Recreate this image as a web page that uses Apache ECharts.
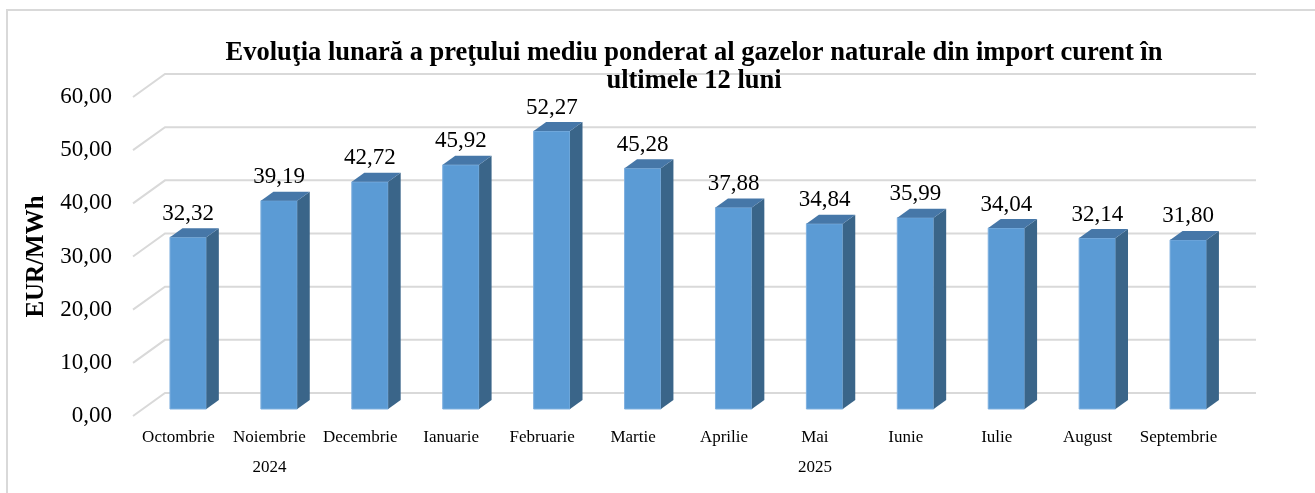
<!DOCTYPE html>
<html>
<head>
<meta charset="utf-8">
<script src="https://cdn.jsdelivr.net/npm/echarts@6/dist/echarts.min.js"></script>
<style>
  html, body { margin: 0; padding: 0; background: #fff; }
  #chart { width: 1315px; height: 493px; }
</style>
</head>
<body>
<div id="chart"></div>
<script>
// date
const months = ['Octombrie', 'Noiembrie', 'Decembrie', 'Ianuarie', 'Februarie', 'Martie',
  'Aprilie', 'Mai', 'Iunie', 'Iulie', 'August', 'Septembrie'];
const prices = [32.32, 39.19, 42.72, 45.92, 52.27, 45.28, 37.88, 34.84, 35.99, 34.04, 32.14, 31.80];
const yearGroups = [['2024', 3], ['2025', 9]]; // an, numar de luni
const yTicks = [0, 10, 20, 30, 40, 50, 60];

// eticheta anului sub luna din mijlocul grupului
const yearLabels = [];
yearGroups.forEach(([year, count]) => {
  const mid = Math.floor((count - 1) / 2);
  for (let i = 0; i < count; i++) yearLabels.push(i === mid ? year : '');
});

const fmt = v => v.toFixed(2).replace('.', ',');
const serif = '"Liberation Serif", "Times New Roman", serif';

// adancimea "3D" in pixeli
const WALL_DX = 32, WALL_DY = -23;
const BAR_OX = 9.7, BAR_OY = -7;
const BAR_DX = 12.5, BAR_DY = -9;

const myChart = echarts.init(document.getElementById('chart'));

myChart.setOption({
  animation: false,
  graphic: [{
    type: 'rect',
    shape: { x: 7, y: 10, width: 1400, height: 600 },
    style: { fill: 'none', stroke: '#d9d9d9', lineWidth: 2 },
    z: -10
  }],
  title: {
    text: 'Evoluţia lunară a preţului mediu ponderat al gazelor naturale din import curent în\nultimele 12 luni',
    left: 689,
    top: 34,
    textAlign: 'center',
    textStyle: {
      fontFamily: serif,
      fontWeight: 'bold',
      fontSize: 26.5,
      lineHeight: 28,
      color: '#000'
    }
  },
  grid: { left: 133, top: 97, width: 1091, height: 319 },
  xAxis: [
    {
      type: 'category',
      data: months,
      axisLine: { show: false },
      axisTick: { show: false },
      axisLabel: { fontFamily: serif, fontSize: 17, color: '#000', margin: 13, interval: 0 }
    },
    {
      type: 'category',
      data: yearLabels,
      position: 'bottom',
      offset: 30,
      axisLine: { show: false },
      axisTick: { show: false },
      axisLabel: { fontFamily: serif, fontSize: 17, color: '#000', margin: 13, interval: 0 }
    }
  ],
  yAxis: {
    type: 'value',
    min: 0,
    max: 60,
    interval: 10,
    name: 'EUR/MWh',
    nameLocation: 'middle',
    nameRotate: 90,
    nameGap: 83,
    nameTextStyle: { fontFamily: serif, fontWeight: 'bold', fontSize: 25, color: '#000' },
    axisLine: { show: false },
    axisTick: { show: false },
    splitLine: { show: false },
    axisLabel: {
      fontFamily: serif,
      fontSize: 23,
      color: '#000',
      margin: 21,
      formatter: v => fmt(v)
    }
  },
  series: [
    {
      // peretii: linii oblice + linii pe spate
      type: 'custom',
      z: 1,
      silent: true,
      data: yTicks.map(v => [0, v]),
      renderItem(params, api) {
        const p = api.coord([0, api.value(1)]);
        const band = api.size([1, 0])[0];
        const lx = p[0] - band / 2;
        const rx = lx + band * months.length;
        return {
          type: 'polyline',
          shape: {
            points: [[lx, p[1]], [lx + WALL_DX, p[1] + WALL_DY], [rx + WALL_DX, p[1] + WALL_DY]]
          },
          style: { stroke: '#d9d9d9', lineWidth: 2, fill: 'none' }
        };
      }
    },
    {
      type: 'custom',
      z: 2,
      data: prices.map((v, i) => [i, v]),
      renderItem(params, api) {
        const base = api.coord([api.value(0), 0]);
        const top = api.coord([api.value(0), api.value(1)]);
        const band = api.size([1, 0])[0];
        const w = band * 0.4;
        const fx = base[0] + BAR_OX - w / 2;
        const y0 = base[1] + BAR_OY;
        const y1 = top[1] + BAR_OY;
        return {
          type: 'group',
          children: [
            {
              type: 'polygon',
              shape: { points: [[fx, y0], [fx + w, y0], [fx + w, y1], [fx, y1]] },
              style: { fill: '#5b9bd5', stroke: '#7fb0df', lineWidth: 1 }
            },
            {
              type: 'polygon',
              shape: { points: [[fx + w, y0], [fx + w + BAR_DX, y0 + BAR_DY], [fx + w + BAR_DX, y1 + BAR_DY], [fx + w, y1]] },
              style: { fill: '#3a6589' }
            },
            {
              type: 'polygon',
              shape: { points: [[fx, y1], [fx + w, y1], [fx + w + BAR_DX, y1 + BAR_DY], [fx + BAR_DX, y1 + BAR_DY]] },
              style: { fill: '#4677a8' }
            },
            {
              type: 'text',
              style: {
                text: fmt(api.value(1)),
                x: fx + w / 2,
                y: y1 + BAR_DY - 3,
                align: 'center',
                verticalAlign: 'bottom',
                fill: '#000',
                font: '23px ' + serif
              }
            }
          ]
        };
      }
    }
  ]
});
</script>
</body>
</html>
